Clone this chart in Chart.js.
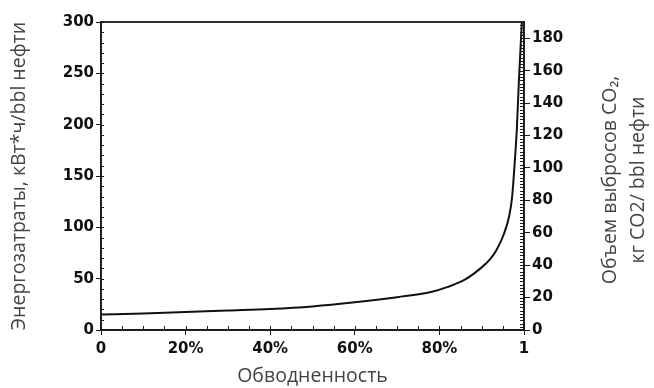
<!DOCTYPE html>
<html>
<head>
<meta charset="utf-8">
<script src="https://cdn.jsdelivr.net/npm/chart.js@4/dist/chart.umd.min.js"></script>
<style>
    html, body { margin: 0; padding: 0; background: #fff; }
    #wrap { width: 654px; height: 388px; }
</style>
</head>
<body>
<div id="wrap"><canvas id="chart"></canvas></div>
<script>
// water cut (fraction) and energy use, kWh per bbl of oil
const waterCut = [0, 0.1, 0.2, 0.3, 0.4, 0.5, 0.6, 0.7, 0.78, 0.82, 0.86, 0.9, 0.92, 0.935, 0.952, 0.965, 0.972, 0.978, 0.983, 0.988, 0.995]
const energy = [15, 16, 17.5, 19, 20.5, 23, 27, 32, 37, 42, 49, 61, 69, 78, 93, 111, 130, 163, 195, 243, 300]

const energyMax = 300
const co2Max = 190

const xTitle = 'Обводненность'
const yTitle = 'Энергозатраты, кВт*ч/bbl нефти'
const y2Title = ['Объем выбросов CO₂,', 'кг CO2/ bbl нефти']

const tickFont = { family: '"DejaVu Sans"', size: 15, weight: 'bold' }
const titleFont = { family: '"Open Sans"', size: 19.5 }
const titleColor = '#444'
const axisColor = '#1a1a1a'

// minor ticks drawn inside the plot, the frame, and the right axis title
const frame = {
    id: 'frame',
    afterDraw(chart) {
        const { ctx, chartArea: a, scales } = chart
        ctx.save()
        ctx.strokeStyle = axisColor
        ctx.lineWidth = 1
        ctx.beginPath()
        for (let v = 0; v <= 1.0001; v += 0.05) {
            const px = Math.round(scales.x.getPixelForValue(v)) + 0.5
            ctx.moveTo(px, a.bottom)
            ctx.lineTo(px, a.bottom - 4)
        }
        for (let v = 0; v <= energyMax; v += 10) {
            const py = Math.round(scales.y.getPixelForValue(v)) + 0.5
            ctx.moveTo(a.left, py)
            ctx.lineTo(a.left + 3, py)
        }
        for (let v = 0; v <= co2Max; v += 2) {
            const py = Math.round(scales.y2.getPixelForValue(v)) + 0.5
            ctx.moveTo(a.right, py)
            ctx.lineTo(a.right - 4, py)
        }
        ctx.stroke()
        ctx.lineWidth = 1.8
        ctx.strokeRect(a.left, a.top, a.right - a.left, a.bottom - a.top)

        // right title reads bottom to top, like the left one
        ctx.fillStyle = titleColor
        ctx.font = titleFont.size + 'px ' + titleFont.family
        ctx.textAlign = 'center'
        ctx.textBaseline = 'middle'
        ctx.translate(scales.y2.right - 30, (a.top + a.bottom) / 2 + 4)
        ctx.rotate(-Math.PI / 2)
        ctx.fillText(y2Title[0], 0, -14)
        ctx.fillText(y2Title[1], 0, 14)
        ctx.restore()
    },
}

new Chart(document.getElementById('chart'), {
    type: 'line',
    data: {
        datasets: [{
            data: waterCut.map((w, i) => ({ x: w, y: energy[i] })),
            borderColor: '#111',
            borderWidth: 2,
            pointRadius: 0,
            cubicInterpolationMode: 'monotone',
            yAxisID: 'y',
        }],
    },
    options: {
        responsive: true,
        maintainAspectRatio: false,
        animation: false,
        layout: { padding: { top: 22, left: 0, right: 0, bottom: 0 } },
        plugins: { legend: { display: false }, tooltip: { enabled: false } },
        scales: {
            x: {
                type: 'linear',
                min: 0,
                max: 1,
                border: { display: true, color: axisColor, width: 1.5 },
                grid: { drawOnChartArea: false, tickLength: 5, color: axisColor },
                ticks: {
                    stepSize: 0.2,
                    color: '#111',
                    font: tickFont,
                    padding: 5,
                    maxRotation: 0,
                    callback: v => (v === 0 ? '0' : v === 1 ? '1' : Math.round(v * 100) + '%'),
                },
                title: { display: true, text: xTitle, color: titleColor, font: titleFont, padding: { top: 2, bottom: 0 } },
                afterFit: s => { s.height = 58 },
            },
            y: {
                position: 'left',
                min: 0,
                max: energyMax,
                border: { display: true, color: axisColor, width: 1.5 },
                grid: { drawOnChartArea: false, tickLength: 5, color: axisColor },
                ticks: { stepSize: 50, color: '#111', font: tickFont, padding: 2 },
                title: { display: true, text: yTitle, color: titleColor, font: titleFont, padding: { top: 8, bottom: 8 } },
                afterFit: s => { s.width = 101 },
            },
            y2: {
                position: 'right',
                min: 0,
                max: co2Max,
                border: { display: true, color: axisColor, width: 1.5 },
                grid: { drawOnChartArea: false, tickLength: 6, color: axisColor },
                ticks: { stepSize: 20, includeBounds: false, color: '#111', font: tickFont, padding: 2 },
                title: { display: false },
                afterFit: s => { s.width = 130 },
            },
        },
    },
    plugins: [frame],
})
</script>
</body>
</html>
